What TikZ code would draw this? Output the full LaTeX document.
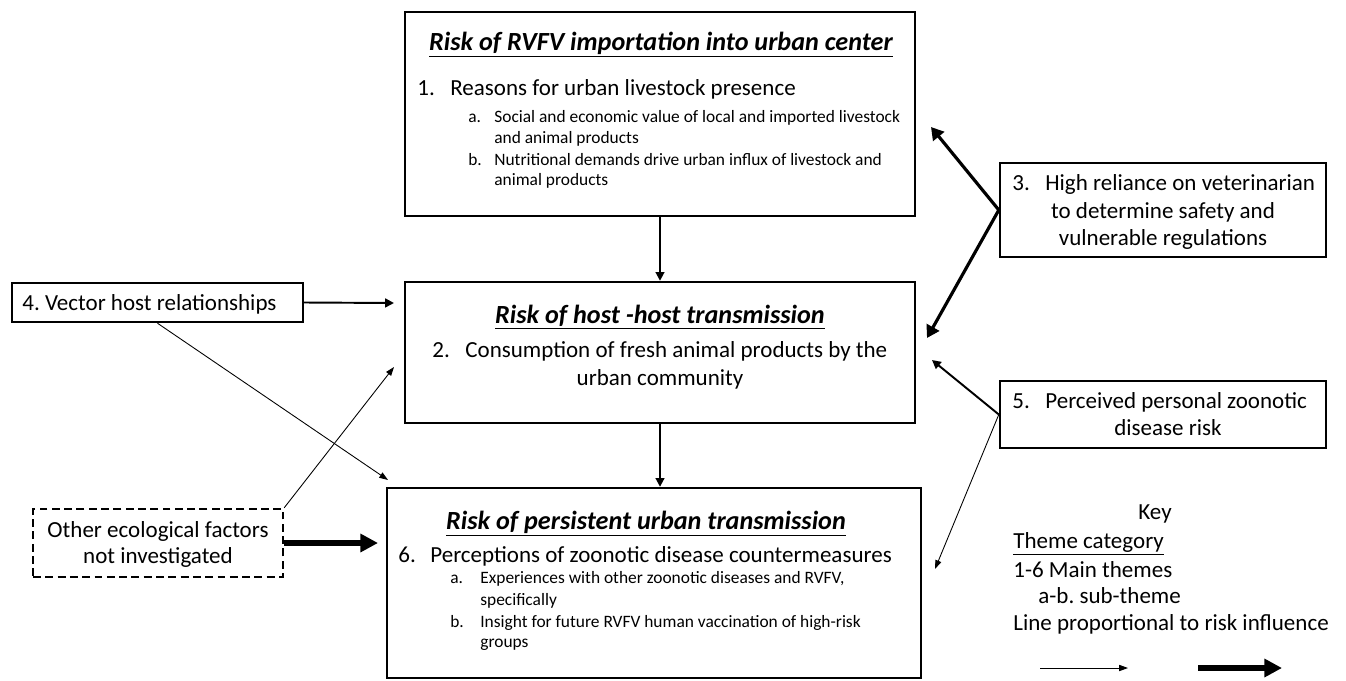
\documentclass[tikz,border=0pt]{standalone}
\usepackage{fontspec}
\setmainfont{Carlito}
\frenchspacing
\usetikzlibrary{arrows.meta}

\begin{document}
\begin{tikzpicture}[x=0.02cm, y=-0.02cm, font=\fontsize{13.1}{15}\selectfont,
  box/.style={draw, line width=1.4pt, inner sep=0pt},
  txt/.style={inner sep=0pt},
  ttl/.style={inner sep=0pt, font=\fontsize{14.9}{17}\selectfont\bfseries\itshape},
  sub/.style={inner sep=0pt, font=\fontsize{9.9}{12}\selectfont},
  lnk/.style={line width=1.1pt, -{Triangle[length=5pt,width=5pt]}},
  heavylnk/.style={line width=1.8pt, -{Triangle[length=7pt,width=8pt]}},
  weaklnk/.style={line width=0.5pt, -{Triangle[length=5pt,width=3.5pt]}},
  fatlnk/.style={line width=3.8pt, -{Triangle[length=10pt,width=10pt]}}]
\useasboundingbox (0,0) rectangle (1346,680);
% boxes
\node[box, minimum width=10.2cm, minimum height=4.08cm] (imp) at (660,114) {};
\node[box, minimum width=10.2cm, minimum height=2.82cm] (host) at (660,352.5) {};
\node[box, minimum width=10.68cm, minimum height=3.8cm] (pers) at (654,583) {};
\node[box, minimum width=6.52cm, minimum height=1.88cm] (vet) at (1163,210) {};
\node[box, minimum width=6.52cm, minimum height=1.34cm] (perc) at (1163,414.5) {};
\node[box, minimum width=5.82cm, minimum height=0.78cm] (vec) at (157.5,302.5) {};
\node[box, dash pattern=on 4.5pt off 2.5pt, minimum width=5.0cm, minimum height=1.36cm] (oth) at (158,543) {};
% box 1
\node[ttl, anchor=base] (imptitle) at (661,50) {\underline{Risk of RVFV importation into urban center}};
\node[txt, anchor=base west] (n1) at (417,95) {1.};
\node[txt, anchor=base west] (t1) at (450,95) {Reasons for urban livestock presence};
\node[sub, anchor=base west] (n1a) at (468,122) {a.};
\node[sub, anchor=base west] (t1a) at (494,122) {Social and economic value of local and imported livestock};
\node[sub, anchor=base west] (t1aa) at (494,143) {and animal products};
\node[sub, anchor=base west] (n1b) at (468,165) {b.};
\node[sub, anchor=base west] (t1b) at (494,165) {Nutritional demands drive urban influx of livestock and};
\node[sub, anchor=base west] (t1bb) at (494,185) {animal products};
% box 2
\node[ttl, anchor=base] (hosttitle) at (660,323) {\underline{Risk of host -host transmission}};
\node[txt, anchor=base west] (n2) at (432,357) {2.};
\node[txt, anchor=base west] (t2) at (465,357) {Consumption of fresh animal products by the};
\node[txt, anchor=base] (t2b) at (660,385) {urban community};
% box 6
\node[ttl, anchor=base] (perstitle) at (646,529) {\underline{Risk of persistent urban transmission}};
\node[txt, anchor=base west] (n6) at (398,562) {6.};
\node[txt, anchor=base west] (t6) at (430,562) {Perceptions of zoonotic disease countermeasures};
\node[sub, anchor=base west] (n6a) at (450,583) {a.};
\node[sub, anchor=base west] (t6a) at (480,583) {Experiences with other zoonotic diseases and RVFV,};
\node[sub, anchor=base west] (t6aa) at (480,605) {specifically};
\node[sub, anchor=base west] (n6b) at (450,627) {b.};
\node[sub, anchor=base west] (t6b) at (480,627) {Insight for future RVFV human vaccination of high-risk};
\node[sub, anchor=base west] (t6bb) at (480,647) {groups};
% side boxes
\node[txt, anchor=base west] (n3) at (1012,190) {3.};
\node[txt, anchor=base west] (t3) at (1045,190) {High reliance on veterinarian};
\node[txt, anchor=base] (t3b) at (1163,218) {to determine safety and};
\node[txt, anchor=base] (t3c) at (1163,245) {vulnerable regulations};
\node[txt, anchor=base west] (n5) at (1012,408) {5.};
\node[txt, anchor=base west] (t5) at (1045,408) {Perceived personal zoonotic};
\node[txt, anchor=base] (t5b) at (1168,435) {disease risk};
\node[txt, anchor=base west] (t4) at (22,310) {4. Vector host relationships};
\node[txt, anchor=base] (toth) at (158,537) {Other ecological factors};
\node[txt, anchor=base] (tothb) at (158,563) {not investigated};
% arrows
\coordinate (vetup) at (931,127);
\coordinate (vetdn) at (927,338);
\coordinate (percup) at (932,360);
\coordinate (percdn) at (935,569);
\coordinate (vecend) at (394,303);
\coordinate (vecdn) at (388,480);
\coordinate (othup) at (394,367);
\coordinate (othend) at (378,543);
\draw[lnk] (imp.south) -- (host.north);
\draw[lnk] (host.south) -- (host.south |- pers.north);
\draw[heavylnk] (vet.west) -- (vetup);
\draw[heavylnk] (vet.west) -- (vetdn);
\draw[lnk] (perc.west) -- (percup);
\draw[weaklnk] (perc.west) -- (percdn);
\draw[lnk] (vec.east) -- (vecend);
\draw[weaklnk] (vec.south) -- (vecdn);
\draw[weaklnk] (oth.north east) -- (othup);
\draw[fatlnk] (oth.east) -- (othend);
% key
\node[txt, anchor=base] (key) at (1155,519) {Key};
\node[txt, anchor=base west] (k1) at (1013,548) {\underline{Theme category}};
\node[txt, anchor=base west] (k2) at (1013,577) {1-6 Main themes};
\node[txt, anchor=base west] (k3) at (1038,603) {a-b. sub-theme};
\node[txt, anchor=base west] (k4) at (1013,630) {Line proportional to risk influence};
\coordinate (kw1) at (1040,668);
\coordinate (kw2) at (1128,668);
\coordinate (kf1) at (1198,668);
\coordinate (kf2) at (1282,668);
\draw[weaklnk] (kw1) -- (kw2);
\draw[fatlnk] (kf1) -- (kf2);
\end{tikzpicture}
\end{document}
